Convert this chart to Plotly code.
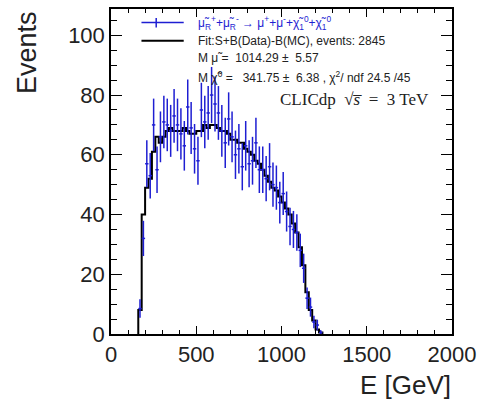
import plotly.graph_objects as go

# ---- data ----
bin_edges = [160 + 20 * i for i in range(55)]  # 160 ... 1240
bin_centers = [170 + 20 * i for i in range(54)]

fit_values = [8, 40, 49, 52, 61, 66, 64, 66, 68, 69,
              68, 68, 68, 69, 68, 67, 67, 68, 68, 70,
              69, 70, 70, 69, 68, 68, 67, 65, 65, 64,
              64, 62, 61, 60, 58, 57, 55, 53, 51, 49,
              48, 46, 44, 42, 40, 37, 34, 29, 23, 14,
              8, 4.5, 1.5, 0.5]

data_values = [8.5, 32, 57, 53, 70, 55, 66, 71, 70, 68,
               73, 70, 67, 63, 76, 69, 62, 58, 75, 71,
               74, 80, 77, 74, 68, 64, 72, 66, 60, 62,
               56, 63, 57, 58, 64, 55, 55, 52, 56, 50,
               49, 44, 47, 41, 36, 35, 34, 28, 22, 12,
               9, 4, 3, 0.5]

data_errors = [3.1, 5.9, 7.9, 7.6, 8.8, 7.8, 8.5, 8.8, 8.8, 8.7,
               9.0, 8.8, 8.6, 8.3, 9.2, 8.7, 8.3, 8.0, 9.1, 8.8,
               9.0, 9.4, 9.2, 9.0, 8.7, 8.4, 8.9, 8.5, 8.1, 8.3,
               7.9, 8.3, 7.9, 8.0, 8.4, 7.8, 7.8, 7.6, 7.9, 7.4,
               7.4, 7.0, 7.2, 6.7, 6.3, 6.2, 6.1, 5.6, 4.9, 3.6,
               3.2, 2.1, 1.8, 0.8]

half_bin = 10

x_ticks = [0, 500, 1000, 1500, 2000]
y_ticks = [0, 20, 40, 60, 80, 100]

BLUE = "rgb(30,30,210)"

fig = go.Figure()

# fit step histogram
step_x = [bin_edges[0]] + bin_edges[:-1] + [bin_edges[-1]]
step_y = [0] + fit_values + [0]
fig.add_trace(go.Scatter(
    x=step_x, y=step_y, mode="lines", line_shape="hv",
    line=dict(color="black", width=2), showlegend=False, hoverinfo="skip"))

# data points with error bars
fig.add_trace(go.Scatter(
    x=bin_centers, y=data_values, mode="markers",
    marker=dict(size=1, color=BLUE),
    error_y=dict(type="data", array=data_errors, color=BLUE, thickness=1.5, width=0),
    error_x=dict(type="constant", value=half_bin, color=BLUE, thickness=1.5, width=0),
    showlegend=False))

L, R, T, B = 111, 25, 7, 69
W, H = 483, 403
pw, ph = W - L - R, H - T - B

def px(x):
    return (x - L) / pw

def py(y):
    return (H - B - y) / ph

# legend samples
fig.add_shape(type="line", xref="paper", yref="paper",
              x0=px(142), x1=px(185), y0=py(20.7), y1=py(20.7),
              line=dict(color=BLUE, width=1.5))
fig.add_shape(type="line", xref="paper", yref="paper",
              x0=px(157), x1=px(157), y0=py(16), y1=py(25.5),
              line=dict(color=BLUE, width=1.5))
fig.add_shape(type="line", xref="paper", yref="paper",
              x0=px(142), x1=px(185), y0=py(39), y1=py(39),
              line=dict(color="black", width=2))

legend_font = dict(family="Liberation Sans, Arial", size=12, color="#222")
rows = [
    ("μ̃<sub>R</sub><sup>+</sup>+μ̃<sub>R</sub><sup>-</sup> → μ<sup>+</sup>+μ<sup>-</sup>+χ̃<sub>1</sub><sup>0</sup>+χ̃<sub>1</sub><sup>0</sup>", 21, BLUE),
    ("Fit:S+B(Data)-B(MC), events: 2845", 39, "#222"),
    ("M μ̃ =  1014.29 ±  5.57", 56, "#222"),
    ("M χ̃<sup>0</sup> =   341.75 ±  6.38 , χ<sup>2</sup>/ ndf 24.5 /45", 75, "#222"),
]
for txt, yy, col in rows:
    f = dict(legend_font)
    f["color"] = col
    fig.add_annotation(text=txt, xref="paper", yref="paper", x=px(198), y=py(yy),
                       xanchor="left", yanchor="middle", showarrow=False, font=f)

NB = "\u00a0"
fig.add_annotation(text="CLICdp" + NB * 2 + "√<i>s̅</i>" + NB * 2 + "=" + NB * 2 + "3 TeV",
                   xref="paper", yref="paper",
                   x=px(437), y=py(98), xanchor="right", yanchor="middle", showarrow=False,
                   font=dict(family="Liberation Serif, Times New Roman", size=17, color="#222"))

# axis titles
fig.add_annotation(text="Events", xref="paper", yref="paper", x=px(25), y=1.0,
                   xanchor="center", yanchor="top", textangle=-90, showarrow=False,
                   font=dict(family="Liberation Sans, Arial", size=27, color="#222"))
fig.add_annotation(text="E [GeV]", xref="paper", yref="paper", x=px(459), y=py(385),
                   xanchor="right", yanchor="middle", showarrow=False,
                   font=dict(family="Liberation Sans, Arial", size=26, color="#222"))

axis_common = dict(showline=True, linecolor="black", linewidth=1.5, mirror="allticks",
                   ticks="inside", tickcolor="black", showgrid=False, zeroline=False,
                   tickfont=dict(family="Liberation Sans, Arial", size=22, color="#222"))

fig.update_xaxes(range=[0, 2000], tickvals=x_ticks, ticklen=8, tickwidth=1.2,
                 minor=dict(ticks="inside", dtick=100, ticklen=4, tickcolor="black", tickwidth=1.2),
                 **axis_common)
fig.update_yaxes(range=[0, 108.8], tickvals=y_ticks, ticklen=11, tickwidth=1.2,
                 minor=dict(ticks="inside", dtick=5, ticklen=6, tickcolor="black", tickwidth=1.2),
                 **axis_common)

fig.update_layout(width=W, height=H, margin=dict(l=L, r=R, t=T, b=B),
                  plot_bgcolor="white", paper_bgcolor="white", showlegend=False)

fig.write_html("out.html", config={"displayModeBar": False},
               post_script="document.body.style.margin='0px';document.body.style.overflow='hidden';")
